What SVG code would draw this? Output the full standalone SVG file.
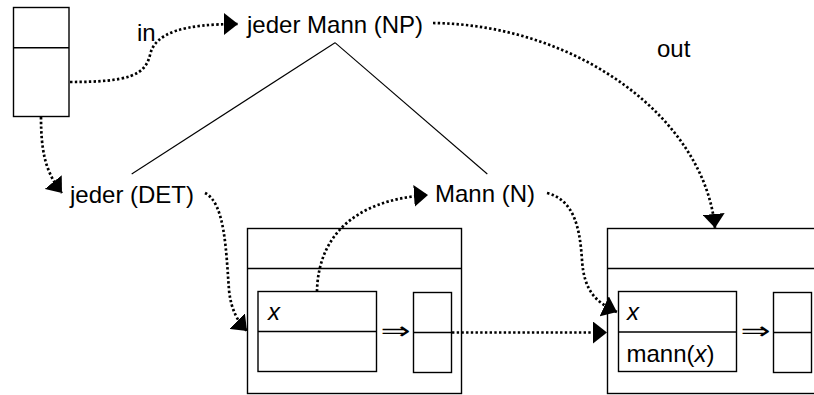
<svg xmlns="http://www.w3.org/2000/svg" width="814" height="395" viewBox="0 0 814 395">
<style>
text{font-family:"Liberation Sans",Arial,sans-serif;font-size:24px;fill:#000}
.it{font-style:italic}
.box{fill:#fff;stroke:#000;stroke-width:1.4}
.ln{stroke:#000;stroke-width:1.4;fill:none}
.tree{stroke:#000;stroke-width:1.1;fill:none}
.dot{stroke:#000;stroke-width:2.7;stroke-dasharray:2.4 2.3;fill:none;marker-end:url(#ah)}
.arr{font-family:"DejaVu Sans",sans-serif;font-size:24px}
</style>
<defs>
<marker id="ah" markerUnits="userSpaceOnUse" markerWidth="15" markerHeight="22" refX="14" refY="11" orient="auto" viewBox="0 0 15 22">
<path d="M0,0 L14,11 L0,22 z" fill="#000"/>
</marker>
</defs>
<rect width="814" height="395" fill="#fff"/>
<g id="tree">
<line class="tree" x1="335" y1="42.7" x2="131.7" y2="174"/>
<line class="tree" x1="335" y1="42.7" x2="487.3" y2="174"/>
</g>
<g id="topbox">
<rect class="box" x="13.5" y="7.5" width="55.5" height="109"/>
<line class="ln" x1="13.5" y1="47.7" x2="69" y2="47.7"/>
</g>
<g id="np"><text x="247" y="33.3">jeder Mann (NP)</text></g>
<g id="det"><text x="70" y="203">jeder (DET)</text></g>
<g id="n"><text x="435" y="202">Mann (N)</text></g>
<g id="boxA">
<rect class="box" x="247.5" y="228.5" width="214" height="165"/>
<line class="ln" x1="247.5" y1="268.5" x2="461.5" y2="268.5"/>
<rect class="box" x="258" y="291.5" width="118.5" height="80"/>
<line class="ln" x1="258" y1="331.5" x2="376.5" y2="331.5"/>
<text class="it" x="268" y="320">x</text>
<text class="arr" transform="translate(395.5,331) scale(1.5,1)" x="0" y="8.3" text-anchor="middle">⇒</text>
<rect class="box" x="413.5" y="292.5" width="38" height="80"/>
<line class="ln" x1="413.5" y1="332.5" x2="451.5" y2="332.5"/>
</g>
<g id="boxB">
<rect class="box" x="607.5" y="228.5" width="214" height="165"/>
<line class="ln" x1="607.5" y1="268.5" x2="821.5" y2="268.5"/>
<rect class="box" x="618.5" y="291.5" width="118" height="80"/>
<line class="ln" x1="618.5" y1="332" x2="736.5" y2="332"/>
<text class="it" x="627" y="320">x</text>
<text x="626.5" y="362">mann(<tspan class="it">x</tspan>)</text>
<text class="arr" transform="translate(755.5,331) scale(1.5,1)" x="0" y="8.3" text-anchor="middle">⇒</text>
<rect class="box" x="773.5" y="292.5" width="38" height="80"/>
<line class="ln" x1="773.5" y1="332.5" x2="811.5" y2="332.5"/>
</g>
<g id="connectors">
<path class="dot" d="M70,82 C130,82 145,75 150,55 C155,32 185,24 238,24"/>
<text x="137" y="41">in</text>
<path class="dot" d="M433,23 C580,25 705,120 715,228"/>
<text x="657" y="57">out</text>
<path class="dot" d="M41,117 C41,150 45,172 62,193"/>
<path class="dot" d="M205,193 C225,203 226,250 229,290 C231,310 238,322 247,331"/>
<path class="dot" d="M317,291.5 C318,240 350,200 428,195"/>
<path class="dot" d="M547,193 C575,200 580,230 582,260 C584,290 595,302 617,312"/>
<path class="dot" d="M452,332.5 L607,332.5"/>
</g>
</svg>
